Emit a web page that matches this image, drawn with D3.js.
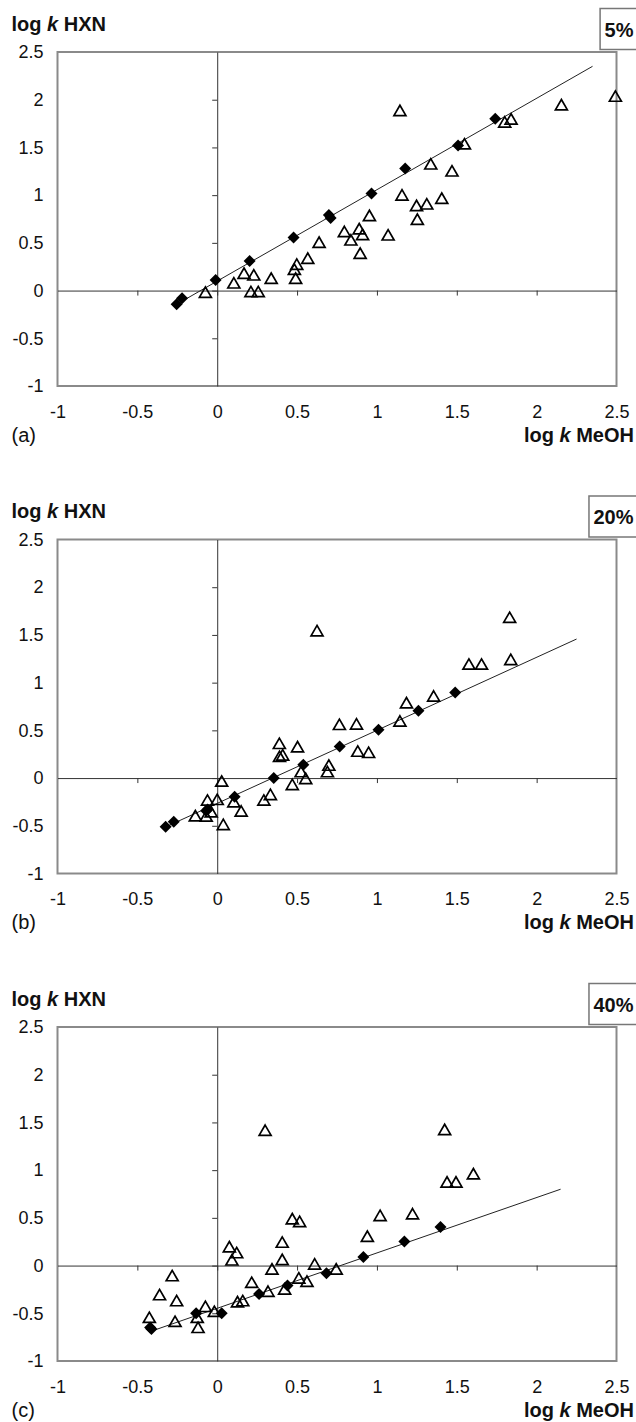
<!DOCTYPE html>
<html>
<head>
<meta charset="utf-8">
<script src="https://cdn.jsdelivr.net/npm/d3@7"></script>
<style>
  body { margin: 0; background: #fff; }
  text { font-family: "Liberation Sans", Arial, Helvetica, sans-serif; fill: #111; }
</style>
</head>
<body>
<div id="chart"></div>
<script>
// axis ticks shared by all three panels
var xTicks = [-1, -0.5, 0, 0.5, 1, 1.5, 2, 2.5];
var yTicks = [-1, -0.5, 0, 0.5, 1, 1.5, 2, 2.5];
var panelLetters = ["(a)", "(b)", "(c)"];
var panelPercents = ["5%", "20%", "40%"];

// (a) 5%  open triangles
var triX_a = [-0.074, 0.104, 0.168, 0.229, 0.211, 0.257, 0.338, 0.483, 0.498, 0.491, 0.567, 0.638, 0.796, 0.837, 0.889, 0.91, 0.895, 0.953, 1.07, 1.157, 1.248, 1.253, 1.312, 1.337, 1.406, 1.47, 1.548, 1.80, 1.84, 1.144, 2.155, 2.493];
var triY_a = [-0.035, 0.063, 0.164, 0.147, -0.028, -0.028, 0.112, 0.206, 0.259, 0.112, 0.321, 0.489, 0.601, 0.514, 0.63, 0.57, 0.374, 0.769, 0.566, 0.985, 0.874, 0.73, 0.891, 1.31, 0.95, 1.237, 1.52, 1.75, 1.78, 1.87, 1.93, 2.02];
// (a) filled diamonds
var diaX_a = [-0.254, -0.22, -0.01, 0.203, 0.478, 0.699, 0.71, 0.966, 1.177, 1.508, 1.741];
var diaY_a = [-0.143, -0.08, 0.112, 0.311, 0.556, 0.793, 0.76, 1.017, 1.279, 1.52, 1.80];
// (a) fitted line end points
var fitX_a = [-0.25, 2.35];
var fitY_a = [-0.14, 2.35];

// (b) 20%
var triX_b = [0.625, 1.831, 1.838, 1.576, 1.655, 1.355, 1.185, 1.144, 0.765, 0.872, 0.88, 0.948, 0.389, 0.39, 0.41, 0.503, 0.699, 0.69, 0.525, 0.028, 0.554, 0.47, 0.333, 0.292, 0.104, 0.15, 0.0, -0.061, -0.038, -0.137, -0.069, 0.038];
var triY_b = [1.527, 1.667, 1.226, 1.177, 1.177, 0.842, 0.772, 0.58, 0.545, 0.55, 0.265, 0.252, 0.346, 0.21, 0.225, 0.311, 0.118, 0.05, 0.05, -0.049, -0.021, -0.084, -0.189, -0.248, -0.266, -0.363, -0.241, -0.248, -0.37, -0.412, -0.416, -0.503];
var diaX_b = [1.49, 1.26, 1.01, 0.767, 0.539, 0.354, 0.109, -0.069, -0.06, -0.272, -0.323];
var diaY_b = [0.896, 0.705, 0.506, 0.33, 0.14, 0.0, -0.196, -0.342, -0.33, -0.458, -0.51];
var fitX_b = [-0.32, 2.25];
var fitY_b = [-0.51, 1.457];

// (c) 40%
var triX_c = [0.30, 1.424, 1.439, 1.495, 1.604, 1.02, 1.223, 0.94, 0.47, 0.516, 0.407, 0.076, 0.122, 0.092, 0.407, 0.343, 0.61, 0.745, 0.511, 0.562, 0.216, 0.318, 0.422, 0.127, 0.16, -0.074, -0.018, -0.282, -0.361, -0.254, -0.425, -0.264, -0.125, -0.12];
var triY_c = [1.40, 1.408, 0.858, 0.858, 0.945, 0.508, 0.525, 0.29, 0.473, 0.445, 0.228, 0.18, 0.118, 0.042, 0.046, -0.053, 0.0, -0.053, -0.147, -0.182, -0.193, -0.287, -0.263, -0.396, -0.385, -0.445, -0.497, -0.123, -0.322, -0.385, -0.56, -0.602, -0.56, -0.665];
var diaX_c = [1.398, 1.172, 0.915, 0.684, 0.44, 0.262, 0.028, -0.132, -0.412, -0.42];
var diaY_c = [0.403, 0.252, 0.09, -0.08, -0.21, -0.298, -0.5, -0.5, -0.665, -0.65];
var fitX_c = [-0.4, 2.15];
var fitY_c = [-0.68, 0.80];

var panels = [
  {tx: triX_a, ty: triY_a, dx: diaX_a, dy: diaY_a, fx: fitX_a, fy: fitY_a},
  {tx: triX_b, ty: triY_b, dx: diaX_b, dy: diaY_b, fx: fitX_b, fy: fitY_b},
  {tx: triX_c, ty: triY_c, dx: diaX_c, dy: diaY_c, fx: fitX_c, fy: fitY_c}
];

// layout
var width = 636, height = 1422;
var plotLeft = 57.5, plotRight = 616.5, plotHeight = 334;
var panelTops = [52, 539.5, 1027];

var svg = d3.select("#chart").append("svg")
    .attr("width", width)
    .attr("height", height);

var xScale = d3.scaleLinear().domain([-1, 2.5]).range([plotLeft, plotRight]);

function zip(a, b) { return a.map(function(v, i) { return [v, b[i]]; }); }

panels.forEach(function(p, i) {
  var top = panelTops[i];
  var bottom = top + plotHeight;
  var yScale = d3.scaleLinear().domain([-1, 2.5]).range([bottom, top]);
  var g = svg.append("g");

  // plot area border
  g.append("rect")
      .attr("x", xScale(-1)).attr("y", yScale(2.5))
      .attr("width", xScale(2.5) - xScale(-1))
      .attr("height", yScale(-1) - yScale(2.5))
      .attr("fill", "none")
      .attr("stroke", "#8a8a8a")
      .attr("stroke-width", 2);

  // axes crossing at zero
  var inner = xTicks.filter(function(v) { return v > -1 && v < 2.5; });
  var xZero = g.append("g")
      .attr("transform", "translate(0," + yScale(0) + ")")
      .call(d3.axisBottom(xScale).tickValues(inner).tickSize(5).tickSizeOuter(0).tickFormat(""));
  var yInner = yTicks.filter(function(v) { return v > -1 && v < 2.5; });
  var yZero = g.append("g")
      .attr("transform", "translate(" + xScale(0) + ",0)")
      .call(d3.axisLeft(yScale).tickValues(yInner).tickSize(5).tickSizeOuter(0).tickFormat(""));
  [xZero, yZero].forEach(function(a) {
    a.selectAll("path, line").attr("stroke", "#333").attr("stroke-width", 1);
  });

  // tick labels along bottom and left edges
  var xLab = g.append("g")
      .attr("transform", "translate(0," + bottom + ")")
      .call(d3.axisBottom(xScale).tickValues(xTicks).tickSize(0).tickPadding(19)
        .tickFormat(function(d) { return String(d); }));
  var yLab = g.append("g")
      .attr("transform", "translate(" + plotLeft + ",0)")
      .call(d3.axisLeft(yScale).tickValues(yTicks).tickSize(0).tickPadding(14)
        .tickFormat(function(d) { return String(d); }));
  [xLab, yLab].forEach(function(a) {
    a.select(".domain").remove();
    a.selectAll("text")
      .attr("fill", "#111")
      .style("font-size", "18px")
      .style("font-family", '"Liberation Sans", Arial, sans-serif');
  });

  // fitted line
  g.append("path")
      .datum(zip(p.fx, p.fy))
      .attr("fill", "none")
      .attr("stroke", "#222")
      .attr("stroke-width", 1)
      .attr("d", d3.line().x(function(d) { return xScale(d[0]); }).y(function(d) { return yScale(d[1]); }));

  // diamonds
  g.selectAll(".dia")
      .data(zip(p.dx, p.dy))
      .enter().append("path")
      .attr("class", "dia")
      .attr("d", d3.symbol(d3.symbolSquare, 72)())
      .attr("transform", function(d) { return "translate(" + xScale(d[0]) + "," + yScale(d[1]) + ") rotate(45)"; })
      .attr("fill", "#000");

  // triangles
  g.selectAll(".tri")
      .data(zip(p.tx, p.ty))
      .enter().append("path")
      .attr("class", "tri")
      .attr("d", d3.symbol(d3.symbolTriangle, 62)())
      .attr("transform", function(d) { return "translate(" + xScale(d[0]) + "," + yScale(d[1]) + ")"; })
      .attr("fill", "none")
      .attr("stroke", "#000")
      .attr("stroke-width", 1.7);

  // y axis title
  var yt = g.append("text")
      .attr("x", 11.5).attr("y", top - 21.5)
      .style("font-size", "20px").style("font-weight", "bold");
  yt.append("tspan").text("log ");
  yt.append("tspan").style("font-style", "italic").text("k");
  yt.append("tspan").text(" HXN");

  // x axis title
  var xt = g.append("text")
      .attr("x", 634).attr("y", bottom + 55.5)
      .attr("text-anchor", "end")
      .style("font-size", "20px").style("font-weight", "bold");
  xt.append("tspan").text("log ");
  xt.append("tspan").style("font-style", "italic").text("k");
  xt.append("tspan").text(" MeOH");

  // panel letter
  g.append("text")
      .attr("x", 11.5).attr("y", bottom + 55.5)
      .style("font-size", "20px")
      .text(panelLetters[i]);

  // percentage box
  var pb = g.append("g");
  var pr = pb.append("rect");
  var pt = pb.append("text")
      .attr("x", 633.5).attr("y", top - 15.5)
      .attr("text-anchor", "end")
      .style("font-size", "20px").style("font-weight", "bold")
      .text(panelPercents[i]);
  var bb = pt.node().getBBox();
  pr.attr("x", bb.x - 4.5).attr("y", top - 43.5)
    .attr("width", width + 10 - bb.x).attr("height", 41)
    .attr("fill", "#fff")
    .attr("stroke", "#777")
    .attr("stroke-width", 1.5);
});
</script>
</body>
</html>
